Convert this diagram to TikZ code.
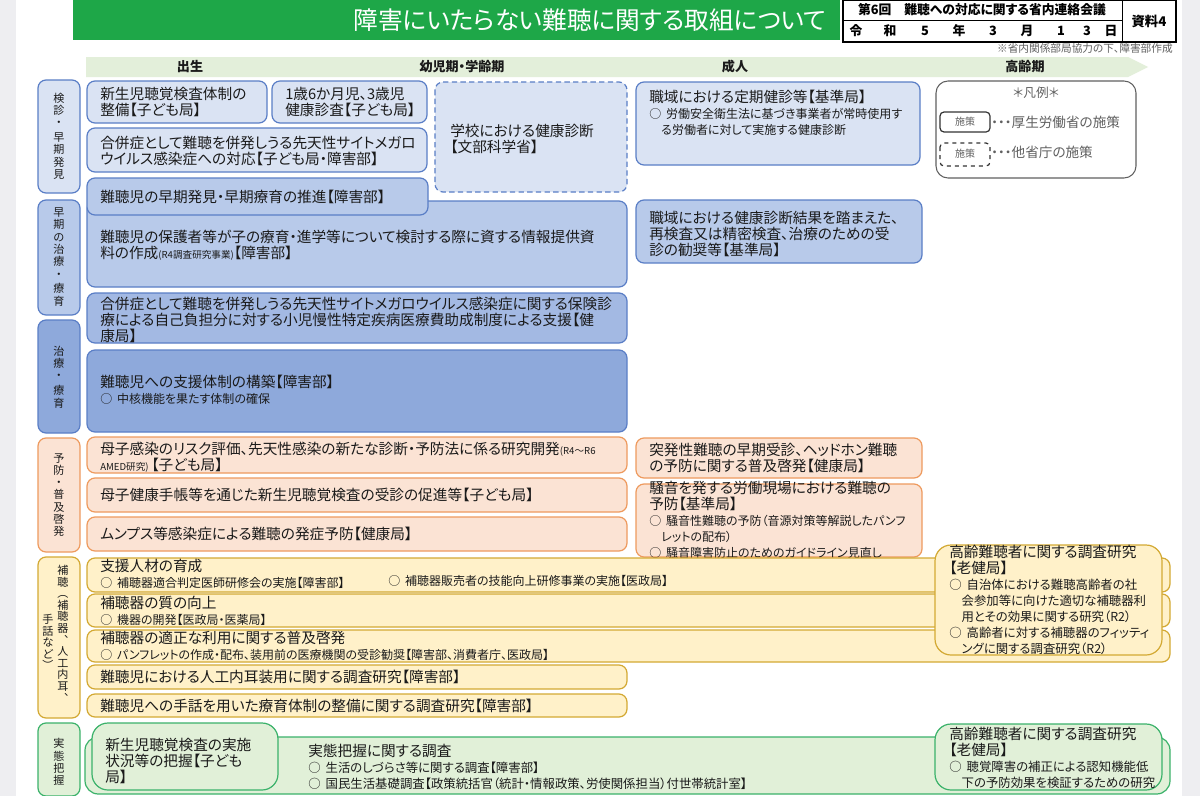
\documentclass[tikz,border=0pt]{standalone}
\usepackage{fontspec}
\setmainfont{Noto Sans CJK JP}[RawFeature=+palt]
\definecolor{bbd}{HTML}{5A7EC6}
\definecolor{bf1}{HTML}{DAE3F3}
\definecolor{bf2}{HTML}{B8CAEA}
\definecolor{bf3}{HTML}{A3B9E3}
\definecolor{bf4}{HTML}{8EA9DB}
\definecolor{obd}{HTML}{EE9A5E}
\definecolor{of}{HTML}{FBE3D4}
\definecolor{ybd}{HTML}{D3A933}
\definecolor{yf}{HTML}{FFF1C9}
\definecolor{gbd}{HTML}{3BB26A}
\definecolor{gf}{HTML}{E1F0D8}
\definecolor{ttl}{HTML}{1EA748}
\definecolor{band}{HTML}{E3EFDA}
\definecolor{side}{HTML}{EEEEF1}
\definecolor{tx}{HTML}{1A1A1A}
\definecolor{lgd}{HTML}{606060}
\newcommand\mtxt{\fontsize{11}{12}\selectfont}
\newcommand\stxt{\fontsize{9}{10.2}\selectfont}
\newcommand\utxt{\fontsize{9.3}{12}\selectfont}
\newcommand\tinyt{\fontsize{7.2}{8}\selectfont}
\newcommand\vltxt{\fontsize{8.3}{9.2}\selectfont}
\newcommand\bul{○\hspace{0.4em}}
\newcommand\ind{\hspace*{1em}}
\tikzset{
  pnl/.style={rounded corners=6pt, line width=0.9pt},
  bl1/.style={pnl, draw=bbd, fill=bf1},
  bl2/.style={pnl, draw=bbd, fill=bf2},
  bl3/.style={pnl, draw=bbd, fill=bf3},
  bl4/.style={pnl, draw=bbd, fill=bf4},
  orb/.style={pnl, draw=obd, fill=of},
  yeb/.style={pnl, draw=ybd, fill=yf},
  grb/.style={pnl, draw=gbd, fill=gf},
  txt/.style={anchor=west, align=left, inner sep=0pt, font=\mtxt, text=tx},
  vlab/.style={align=center, inner sep=0pt, font=\vltxt, text=tx},
  blab/.style={inner sep=0pt, font=\bfseries\fontsize{9.8}{11}\selectfont, text=tx},
}
\begin{document}
\begin{tikzpicture}[x=0.75pt, y=-0.75pt]
\useasboundingbox (0,0) rectangle (1200,796);
\fill[white] (0,0) rectangle (1200,796);
\fill[side] (0,0) rectangle (16,796);
\fill[side] (1182,0) rectangle (1200,796);

% title
\fill[ttl] (73,0) rectangle (840,40);
\node[inner sep=0pt, font=\fontsize{18.5}{20}\selectfont, text=white] (title) at (590,20) {障害にいたらない難聴に関する取組について};

% header table
\draw[line width=0.9pt, fill=white] (843,0) rectangle (1176,42);
\draw[line width=0.7pt] (843,20) -- (1122,20);
\draw[line width=0.7pt] (1122,0) -- (1122,42);
\node[inner sep=0pt, font=\bfseries\fontsize{9.6}{10}\selectfont] (meet) at (982,10) {第6回　難聴への対応に関する省内連絡会議};
\foreach \c/\xx [count=\i] in {令/856,和/890,5/925,年/959,3/993,月/1027,1/1061,3/1087,日/1111}
  \node[inner sep=0pt, font=\bfseries\fontsize{9.6}{10}\selectfont] (d\i) at (\xx,31) {\c};
\node[inner sep=0pt, font=\bfseries\fontsize{10}{11}\selectfont] (shiryo) at (1149,21) {資料4};
\node[anchor=east, inner sep=0pt, font=\fontsize{8}{9}\selectfont, text=lgd] (note) at (1173,48) {※省内関係部局協力の下、障害部作成};

% timeline band
\fill[band] (86,57) -- (1128,57) -- (1148,67) -- (1128,77) -- (86,77) -- cycle;
\node[blab] (t1) at (190,67) {出生};
\node[blab] (t2) at (462,67) {幼児期・学齢期};
\node[blab] (t3) at (735,67) {成人};
\node[blab] (t4) at (1025,67) {高齢期};

% left category labels
\draw[bl1] (38,80) rectangle (80,193);
\node[vlab] (c1) at (59,136) {検\\診\\・\\[2pt]早\\期\\発\\見};
\draw[bl2] (38,200) rectangle (80,315);
\node[vlab] (c2) at (59,257) {早\\期\\の\\治\\療\\・\\[2pt]療\\育};
\draw[bl4] (38,320) rectangle (80,433);
\node[vlab] (c3) at (59,377) {治\\療\\・\\[2pt]療\\育};
\draw[orb] (38,438) rectangle (80,552);
\node[vlab] (c4) at (59,495) {予\\防\\・\\普\\及\\啓\\発};
\draw[yeb] (38,557) rectangle (80,718);
\node[vlab, anchor=north, font=\fontsize{8.3}{8.7}\selectfont] (c5a) at (63,565) {補\\聴\\︵\\補\\聴\\器\\︑\\人\\工\\内\\耳\\︑};
\node[vlab, anchor=north, font=\fontsize{8.3}{8.7}\selectfont] (c5b) at (48,614) {手\\話\\な\\ど\\︶};
\draw[grb] (38,723) rectangle (80,796);
\node[vlab] (c6) at (59,762) {実\\態\\把\\握};

% row 1
\draw[bl1] (87,81) rectangle (267,123);
\node[txt] (a) at (100,101.5) {新生児聴覚検査体制の\\整備【子ども局】};
\draw[bl1] (272,81) rectangle (427,123);
\node[txt] (b) at (285,101.5) {1歳6か月児、3歳児\\健康診査【子ども局】};
\draw[bl1] (87,128) rectangle (427,172);
\node[txt] (c) at (100,150.5) {合併症として難聴を併発しうる先天性サイトメガロ\\ウイルス感染症への対応【子ども局・障害部】};
\draw[pnl, draw=bbd, fill=bf1, dashed, dash pattern=on 4pt off 2.5pt] (435,82) rectangle (627,192);
\node[txt] (d) at (450,138.5) {学校における健康診断\\【文部科学省】};
\draw[bl1] (636,82) rectangle (920,165);
\node[txt] (f) at (649,113) {職域における定期健診等【基準局】\\
 \stxt\bul 労働安全衛生法に基づき事業者が常時使用す\\
 \stxt\ind る労働者に対して実施する健康診断};

% legend
\draw[rounded corners=9pt, line width=0.8pt, draw=lgd, fill=white] (936,81) rectangle (1136,178);
\node[inner sep=0pt, font=\fontsize{9.5}{10}\selectfont, text=lgd] (lg0) at (1036,93) {＊凡例＊};
\draw[rounded corners=3pt, line width=0.9pt, draw=black!80] (940,112) rectangle (990,132);
\node[inner sep=0pt, font=\fontsize{7.5}{8}\selectfont, text=lgd] (lg1) at (965,122) {施策};
\node[anchor=west, inner sep=0pt, font=\fontsize{10.2}{11}\selectfont, text=lgd] (lg1t) at (991,122) {・・・厚生労働省の施策};
\draw[rounded corners=3pt, line width=0.9pt, draw=black!80, dashed] (940,143) rectangle (990,166);
\node[inner sep=0pt, font=\fontsize{7.5}{8}\selectfont, text=lgd] (lg2) at (965,154) {施策};
\node[anchor=west, inner sep=0pt, font=\fontsize{10.2}{11}\selectfont, text=lgd] (lg2t) at (991,152) {・・・他省庁の施策};

% row 2
\draw[bl2] (87,201) rectangle (627,287);
\node[txt] (g) at (100,245) {難聴児の保護者等が子の療育・進学等について検討する際に資する情報提供資\\料の作成{\tinyt (R4調査研究事業)}【障害部】};
\draw[bl2] (87,178) rectangle (428,215);
\node[txt] (e) at (100,197) {難聴児の早期発見・早期療育の推進【障害部】};
\draw[bl2] (636,200) rectangle (922,263);
\node[txt] (h) at (649,233.5) {職域における健康診断結果を踏まえた、\\再検査又は精密検査、治療のための受\\診の勧奨等【基準局】};
\draw[bl3] (87,293) rectangle (627,343);
\node[txt] (i) at (100,320) {合併症として難聴を併発しうる先天性サイトメガロウイルス感染症に関する保険診\\療による自己負担分に対する小児慢性特定疾病医療費助成制度による支援【健\\康局】};

% row 3
\draw[bl4] (87,350) rectangle (627,432);
\node[txt] (j) at (100,390) {難聴児への支援体制の構築【障害部】\\ \stxt\bul 中核機能を果たす体制の確保};

% row 4 orange
\draw[orb] (87,437) rectangle (627,473);
\node[txt] (k) at (100,449) {母子感染のリスク評価、先天性感染の新たな診断・予防法に係る研究開発{\tinyt (R4～R6}};
\node[txt] (k2) at (100,465) {{\tinyt AMED研究)}\hspace{2pt}【子ども局】};
\draw[orb] (87,478) rectangle (627,512);
\node[txt] (l) at (100,495) {母子健康手帳等を通じた新生児聴覚検査の受診の促進等【子ども局】};
\draw[orb] (87,517) rectangle (627,551);
\node[txt] (m) at (100,534) {ムンプス等感染症による難聴の発症予防【健康局】};
\draw[orb] (636,438) rectangle (922,478);
\node[txt] (n) at (649,458) {突発性難聴の早期受診、ヘッドホン難聴\\の予防に関する普及啓発【健康局】};
\draw[orb] (636,484) rectangle (922,557);
\node[txt] (o) at (649,520) {騒音を発する労働現場における難聴の\\予防【基準局】\\
 \stxt\bul 騒音性難聴の予防（音源対策等解説したパンフ\\
 \stxt\ind レットの配布）\\
 \stxt\bul 騒音障害防止のためのガイドライン見直し};

% row 5 yellow
\draw[yeb] (87,558) rectangle (1170,592);
\node[txt] (p) at (100,573.5) {支援人材の育成\\ \stxt\bul 補聴器適合判定医師研修会の実施【障害部】};
\node[txt, font=\stxt] (p2) at (388,581) {\bul 補聴器販売者の技能向上研修事業の実施【医政局】};
\draw[yeb] (87,594) rectangle (1170,627);
\node[txt] (q) at (100,611) {補聴器の質の向上\\ \stxt\bul 機器の開発【医政局・医薬局】};
\draw[yeb] (87,630) rectangle (1170,662);
\node[txt] (r) at (100,645.5) {補聴器の適正な利用に関する普及啓発\\ \stxt\bul パンフレットの作成・配布、装用前の医療機関の受診勧奨【障害部、消費者庁、医政局】};
\draw[yeb] (87,665) rectangle (627,689);
\node[txt] (s) at (100,677) {難聴児における人工内耳装用に関する調査研究【障害部】};
\draw[yeb] (87,694) rectangle (627,717);
\node[txt] (t) at (100,706) {難聴児への手話を用いた療育体制の整備に関する調査研究【障害部】};
\draw[yeb, rounded corners=12pt] (935,545) rectangle (1162,655);
\node[txt] (u) at (949,600) {高齢難聴者に関する調査研究\\【老健局】\\
 \utxt\bul 自治体における難聴高齢者の社\\
 \utxt\ind 会参加等に向けた適切な補聴器利\\
 \utxt\ind 用とその効果に関する研究（R2）\\
 \utxt\bul 高齢者に対する補聴器のフィッティ\\
 \utxt\ind ングに関する調査研究（R2）};

% row 6 green
\draw[grb, rounded corners=10pt] (85,737) rectangle (1170,794);
\node[txt] (v) at (308,767) {実態把握に関する調査\\
 \utxt\bul 生活のしづらさ等に関する調査【障害部】\\
 \utxt\bul 国民生活基礎調査【政策統括官（統計・情報政策、労使関係担当）付世帯統計室】};
\draw[grb, rounded corners=12pt] (92,723) rectangle (278,790);
\node[txt] (w) at (105,761) {新生児聴覚検査の実施\\状況等の把握【子ども\\局】};
\draw[grb, rounded corners=12pt] (935,724) rectangle (1162,790);
\node[txt] (x) at (949,757.5) {高齢難聴者に関する調査研究\\【老健局】\\
 \utxt\bul 聴覚障害の補正による認知機能低\\
 \utxt\ind 下の予防効果を検証するための研究};
\end{tikzpicture}
\end{document}
